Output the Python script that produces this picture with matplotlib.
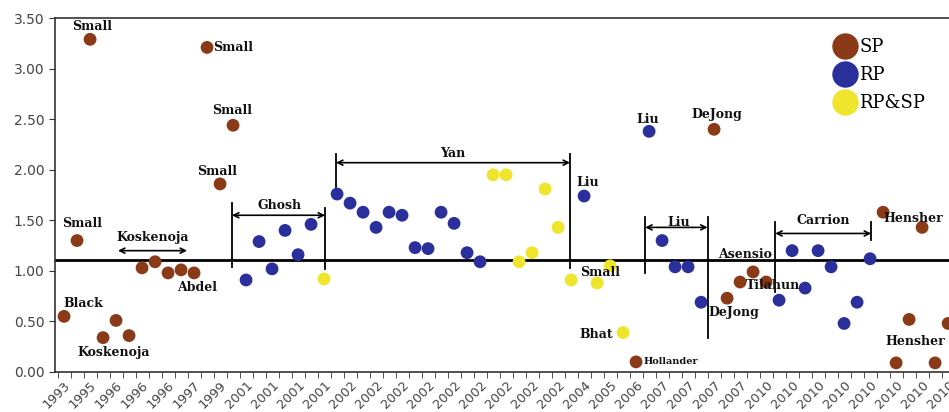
import matplotlib
matplotlib.use("Agg")
import matplotlib.pyplot as plt
from matplotlib.lines import Line2D

# Data: one study per category, in the order shown on the axis
values = [0.55, 1.30, 3.29, 0.34, 0.51, 0.36, 1.03, 1.09, 0.98, 1.01,
          0.98, 3.21, 1.86, 2.44, 0.91, 1.29, 1.02, 1.40, 1.16, 1.46,
          0.92, 1.76, 1.67, 1.58, 1.43, 1.58, 1.55, 1.23, 1.22, 1.58,
          1.47, 1.18, 1.09, 1.95, 1.95, 1.09, 1.18, 1.81, 1.43, 0.91,
          1.74, 0.88, 1.05, 0.39, 0.10, 2.38, 1.30, 1.04, 1.04, 0.69,
          2.40, 0.73, 0.89, 0.99, 0.89, 0.71, 1.20, 0.83, 1.20, 1.04,
          0.48, 0.69, 1.12, 1.58, 0.09, 0.52, 1.43, 0.09, 0.48]
kinds = (["SP"] * 14 + ["RP"] * 6 + ["RP&SP"] + ["RP"] * 12 + ["RP&SP"] * 7
         + ["RP"] + ["RP&SP"] * 3 + ["SP"] + ["RP"] * 5 + ["SP"] * 5
         + ["RP"] * 8 + ["SP"] * 6)
# tick labels for every second category
year_labels = ["1993", "1995", "1996", "1996", "1996", "1997", "1999",
               "2001", "2001", "2001", "2001",
               "2002", "2002", "2002", "2002", "2002", "2002", "2002", "2002", "2002",
               "2004", "2005", "2006", "2007", "2007", "2007", "2007",
               "2010", "2010", "2010", "2010", "2010", "2010", "2010", "2010"]
ref_value = 1.11

colors = {"SP": "#8b3a18", "RP": "#2a2f9c", "RP&SP": "#eee52c"}

# Author labels (x, y, text, ha, size)
labels = [
    (2.15, 3.42, "Small", "center", 9), (11.5, 3.21, "Small", "left", 9),
    (12.9, 2.59, "Small", "center", 9), (11.8, 1.98, "Small", "center", 9),
    (1.4, 1.47, "Small", "center", 9), (6.85, 1.33, "Koskenoja", "center", 9),
    (10.2, 0.84, "Abdel", "center", 9), (1.45, 0.68, "Black", "center", 9),
    (3.8, 0.19, "Koskenoja", "center", 9), (16.6, 1.65, "Ghosh", "center", 9),
    (29.9, 2.16, "Yan", "center", 9), (40.3, 1.87, "Liu", "center", 9),
    (41.2, 0.98, "Small", "center", 9), (40.9, 0.37, "Bhat", "center", 9),
    (44.6, 0.10, "Hollander", "left", 7), (44.9, 2.50, "Liu", "center", 9),
    (50.2, 2.55, "DeJong", "center", 9), (47.3, 1.48, "Liu", "center", 9),
    (52.4, 1.16, "Asensio", "center", 9), (54.5, 0.86, "Tilahun", "center", 9),
    (51.5, 0.59, "DeJong", "center", 9), (58.4, 1.50, "Carrion", "center", 9),
    (65.3, 1.52, "Hensher", "center", 9), (65.5, 0.30, "Hensher", "center", 9),
]
# vertical bracket lines (x, y0, y1) and double arrows (x0, x1, y)
vlines = [(12.92, 1.04, 1.67), (20.08, 1.02, 1.62), (20.92, 1.83, 2.16),
          (38.92, 1.03, 2.16), (44.7, 0.98, 1.53), (49.5, 0.34, 1.53),
          (54.7, 0.79, 1.48), (62.08, 1.31, 1.48)]
arrows = [(4.15, 9.46, 1.20), (12.92, 20.08, 1.55), (20.92, 38.92, 2.07),
          (44.7, 49.5, 1.43), (54.7, 62.08, 1.37)]

fig = plt.figure(figsize=(9.49, 4.12), dpi=100)
ax = fig.add_axes([0.0579, 0.0971, 0.9617, 0.859])

xs = list(range(len(values)))
for k in ["SP", "RP", "RP&SP"]:
    px = [x for x, c in zip(xs, kinds) if c == k]
    py = [v for v, c in zip(values, kinds) if c == k]
    ax.scatter(px, py, s=85, color=colors[k], edgecolors="none", zorder=3)

ax.axhline(ref_value, color="black", lw=2, zorder=2)

for x, y0, y1 in vlines:
    ax.plot([x, x], [y0, y1], color="black", lw=1.3, zorder=2)
for x0, x1, y in arrows:
    ax.annotate("", xy=(x0, y), xytext=(x1, y),
                arrowprops=dict(arrowstyle="<->", color="black", lw=1.2,
                                shrinkA=0, shrinkB=0, mutation_scale=9))

for x, y, t, ha, size in labels:
    ax.text(x, y, t, ha=ha, va="center", fontsize=size, fontweight="bold",
            family="DejaVu Serif", color="#111111", zorder=4)

ax.set_xlim(-0.7, 69.5)
ax.set_ylim(0, 3.5)
ax.set_yticks([0, 0.5, 1.0, 1.5, 2.0, 2.5, 3.0, 3.5])
ax.set_yticklabels([f"{v:.2f}" for v in ax.get_yticks()], fontsize=10, color="#444444")
ax.set_xticks(range(0, len(values), 2))
ax.set_xticklabels(year_labels, rotation=45, ha="right", rotation_mode="anchor",
                   fontsize=9.3, color="#444444")
ax.set_xticks([i - 0.5 for i in range(len(values) + 1)], minor=True)
ax.tick_params(axis="x", which="major", length=0, pad=5)
ax.tick_params(axis="x", which="minor", length=4, direction="out", color="#333333")
ax.tick_params(axis="y", length=4, direction="out", color="#333333")
for s in ["left", "bottom", "top"]:
    ax.spines[s].set_color("#333333")
    ax.spines[s].set_linewidth(1.2)
ax.spines["right"].set_visible(False)

handles = [Line2D([], [], marker="o", ls="", color=colors[k], markersize=18) for k in colors]
fig.legend(handles, list(colors), loc="upper left", bbox_to_anchor=(836 / 949, 1 - 38 / 412),
           frameon=False, handlelength=1.0, handletextpad=0.3,
           labelspacing=0.55, borderpad=0, borderaxespad=0,
           prop={"family": "DejaVu Serif", "size": 13})

plt.savefig("out.png", dpi=100)
plt.close()
